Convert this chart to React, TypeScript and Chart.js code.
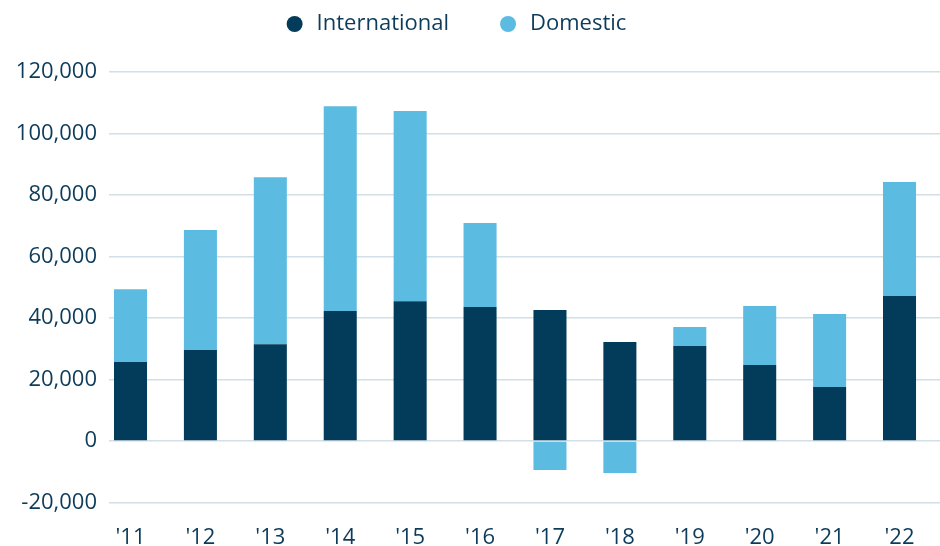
import React, { useEffect, useRef } from "react";
import { Chart, registerables } from "chart.js";

Chart.register(...registerables);

const categories = ["'11", "'12", "'13", "'14", "'15", "'16", "'17", "'18", "'19", "'20", "'21", "'22"];
const international = [25700, 29600, 31500, 42300, 45500, 43600, 42600, 32200, 30900, 24700, 17600, 47200];
const domestic = [23700, 39000, 54300, 66600, 61800, 27300, -9400, -10400, 6200, 19200, 23700, 37000];
const yMin = -20000;
const yMax = 120000;
const yStep = 20000;

const DARK = "#033c5a";
const LIGHT = "#5bbbe0";
const TEXT = "#0d3b5a";
const FONT = "'Open Sans', 'Noto Sans', sans-serif";

const legendSpacer = {
  id: "legendSpacer",
  beforeInit(chart: any) {
    const orig = chart.legend.fit;
    chart.legend.fit = function () {
      orig.call(this);
      this.height += 27;
    };
  },
  afterLayout(chart: any) {
    chart.legend.left -= 15;
    chart.legend.right -= 15;
  },
};

export default function App() {
  const ref = useRef<HTMLCanvasElement>(null);
  useEffect(() => {
    const canvas = ref.current;
    if (!canvas) return;
    const chart = new Chart(canvas, {
      type: "bar",
      data: {
        datasets: [
          { label: "International", data: international.map((y, i) => ({ x: i, y })), backgroundColor: DARK, borderWidth: 0 },
          { label: "Domestic", data: domestic.map((y, i) => ({ x: i, y })), backgroundColor: LIGHT, borderWidth: 0 },
        ],
      },
      plugins: [legendSpacer],
      options: {
        animation: false,
        responsive: false,
        maintainAspectRatio: false,
        datasets: { bar: { categoryPercentage: 0.525, barPercentage: 0.9 } },
        layout: { padding: { left: 0, right: 0, top: -35, bottom: -27 } },
        plugins: {
          tooltip: { enabled: false },
          legend: {
            position: "top",
            labels: {
              usePointStyle: true,
              pointStyle: "circle",
              boxWidth: 22,
              boxHeight: 11.3,
              padding: 48,
              color: TEXT,
              font: { family: FONT, size: 22 },
            },
          },
        },
        scales: {
          x: {
            type: "linear",
            stacked: true,
            offset: false,
            min: -0.3076,
            max: 11.579,
            grid: { display: false, drawTicks: false, offset: false },
            border: { display: false },
            afterBuildTicks: (s: any) => {
              s.ticks = categories.map((_, i) => ({ value: i }));
            },
            ticks: {
              autoSkip: false,
              maxRotation: 0,
              color: TEXT,
              font: { family: FONT, size: 22 },
              padding: 22,
              callback: (v: any) => categories[Math.round(Number(v))],
            },
          },
          y: {
            stacked: true,
            min: yMin,
            max: yMax,
            afterFit: (s: any) => {
              s.width = 109;
            },
            ticks: {
              stepSize: yStep,
              color: TEXT,
              padding: 12,
              font: { family: FONT, size: 22 },
              callback: (v: any) => Number(v).toLocaleString("en-US"),
            },
            grid: { color: "#d2dfe6", lineWidth: 1.5, drawTicks: false },
            border: { display: false },
          },
        },
      },
    });
    return () => chart.destroy();
  }, []);
  return (
    <div style={{ position: "fixed", left: 0, top: 0, width: 940, height: 546, background: "#fff" }}>
      <canvas ref={ref} width={940} height={546} style={{ width: 940, height: 546 }} />
    </div>
  );
}
